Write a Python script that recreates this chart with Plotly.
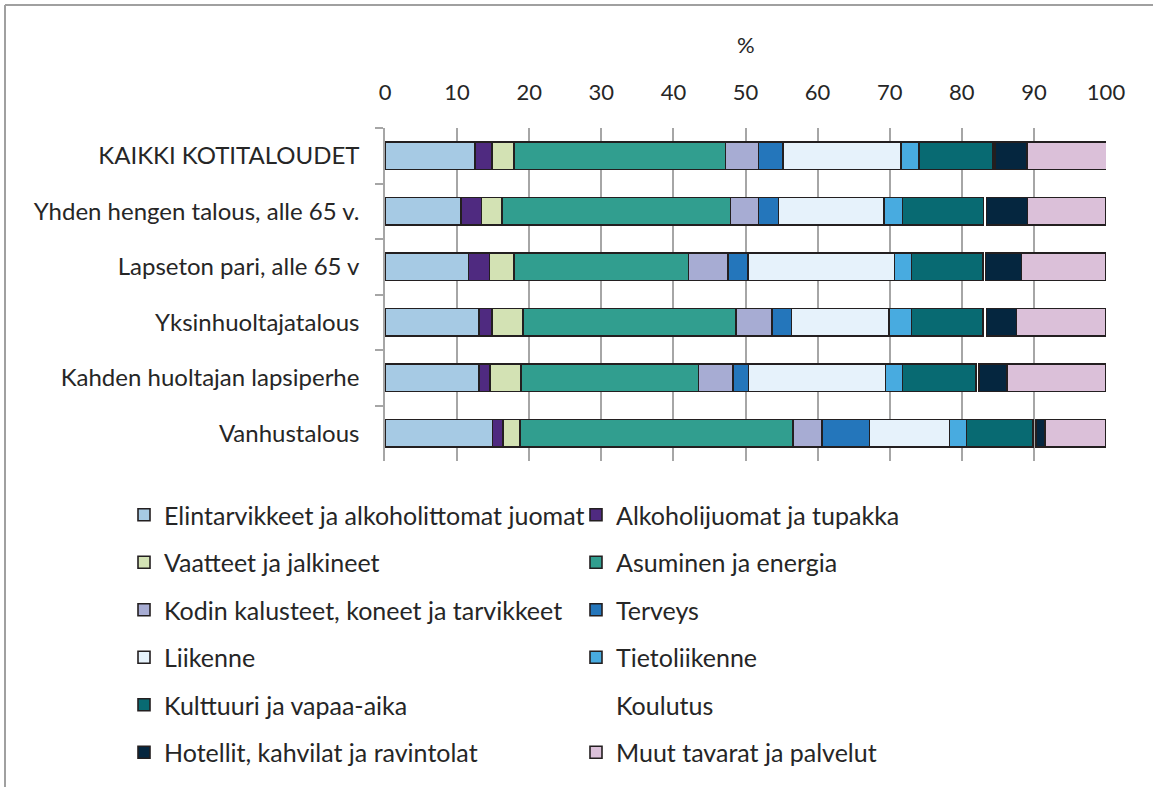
import plotly.graph_objects as go

categories = ["KAIKKI KOTITALOUDET", "Yhden hengen talous, alle 65 v.", "Lapseton pari, alle 65 v",
              "Yksinhuoltajatalous", "Kahden huoltajan lapsiperhe", "Vanhustalous"]

series_names = ["Elintarvikkeet ja alkoholittomat juomat", "Alkoholijuomat ja tupakka",
                "Vaatteet ja jalkineet", "Asuminen ja energia",
                "Kodin kalusteet, koneet ja tarvikkeet", "Terveys",
                "Liikenne", "Tietoliikenne",
                "Kulttuuri ja vapaa-aika", "Koulutus",
                "Hotellit, kahvilat ja ravintolat", "Muut tavarat ja palvelut"]

elintarvikkeet = [12.5, 10.5, 11.6, 13.0, 13.0, 14.9]
alkoholi = [2.3, 2.9, 2.9, 1.8, 1.6, 1.5]
vaatteet = [3.1, 2.8, 3.4, 4.3, 4.25, 2.35]
asuminen = [29.3, 31.7, 24.2, 29.6, 24.65, 37.85]
kalusteet = [4.6, 3.9, 5.45, 5.0, 4.8, 4.05]
terveys = [3.4, 2.8, 2.8, 2.7, 2.1, 6.55]
liikenne = [16.4, 14.6, 20.3, 13.5, 19.0, 11.1]
tietoliikenne = [2.5, 2.6, 2.35, 3.1, 2.4, 2.35]
kulttuuri = [10.2, 11.2, 9.9, 9.9, 10.2, 9.25]
koulutus = [0.3, 0.4, 0.4, 0.5, 0.4, 0.4]
hotellit = [4.45, 5.7, 5.0, 4.2, 3.9, 1.2]
muut = [11.25, 10.9, 11.7, 12.4, 13.7, 8.5]

values = [elintarvikkeet, alkoholi, vaatteet, asuminen, kalusteet, terveys,
          liikenne, tietoliikenne, kulttuuri, koulutus, hotellit, muut]

colors = ["#a6cae4", "#4f2a80", "#d3e2b4", "#319e8f", "#a7acd3", "#2476bb",
          "#e6f2fb", "#48abe0", "#086a72", "rgba(0,0,0,0)", "#05263f", "#dbc0d9"]

W, H = 1153, 787
L, R, T, B = 385, 1106, 128, 461
FONT = "Lato"
TXT = "#262626"

fig = go.Figure()
for i, (name, vals, col) in enumerate(zip(series_names, values, colors)):
    is_edu = name == "Koulutus"
    fig.add_trace(go.Bar(
        y=categories, x=vals, name=name, orientation="h",
        marker=dict(color=col, line=dict(color="rgba(0,0,0,0)" if is_edu else "#231f20",
                                         width=0 if is_edu else 1.6)),
        legend="legend" if i % 2 == 0 else "legend2",
        legendgroup=name,
        hoverinfo="name+x",
    ))

legend_common = dict(
    xref="container", yref="container", yanchor="top", xanchor="left",
    orientation="v", traceorder="grouped", tracegroupgap=12,
    font=dict(family=FONT, size=25, color=TXT), bgcolor="rgba(0,0,0,0)",
)

def py(px):
    return (B - px) / (B - T)

def pxx(px):
    return (px - L) / (R - L)

fig.update_layout(
    width=W, height=H,
    margin=dict(l=L, r=W - R, t=T, b=H - B, autoexpand=False),
    paper_bgcolor="white", plot_bgcolor="white",
    barmode="stack", bargap=0.5,
    font=dict(family=FONT, size=24, color=TXT),
    legend=dict(x=124 / W, y=1 - 492 / H, **legend_common),
    legend2=dict(x=576 / W, y=1 - 492 / H, **legend_common),
    xaxis=dict(range=[0, 100], dtick=10, side="top", showgrid=True,
               gridcolor="#a6a6a6", gridwidth=1.5, zeroline=False, showline=False,
               ticks="", ticklabelstandoff=23, fixedrange=True,
               tickfont=dict(family=FONT, size=22, color=TXT)),
    yaxis=dict(autorange="reversed", showline=True, linecolor="#a6a6a6", linewidth=1.5,
               ticks="outside", ticklen=8, tickcolor="#a6a6a6", tickwidth=1.5,
               tickson="boundaries", showgrid=False, ticklabelstandoff=19,
               fixedrange=True, tickfont=dict(family=FONT, size=24, color=TXT)),
    annotations=[dict(text="%", xref="paper", yref="paper", x=0.5, y=py(45),
                      showarrow=False, font=dict(family=FONT, size=22, color=TXT),
                      xanchor="center", yanchor="middle")],
    shapes=[
        dict(type="line", xref="paper", yref="paper",
             x0=pxx(5), x1=pxx(W), y0=py(5), y1=py(5),
             line=dict(color="#a0a0a0", width=2)),
        dict(type="line", xref="paper", yref="paper",
             x0=pxx(5), x1=pxx(5), y0=py(5), y1=py(H),
             line=dict(color="#a0a0a0", width=2)),
    ],
)

fig.write_html("out.html", config={"displayModeBar": False},
               post_script="document.body.style.margin='0';document.body.style.overflow='hidden';")
